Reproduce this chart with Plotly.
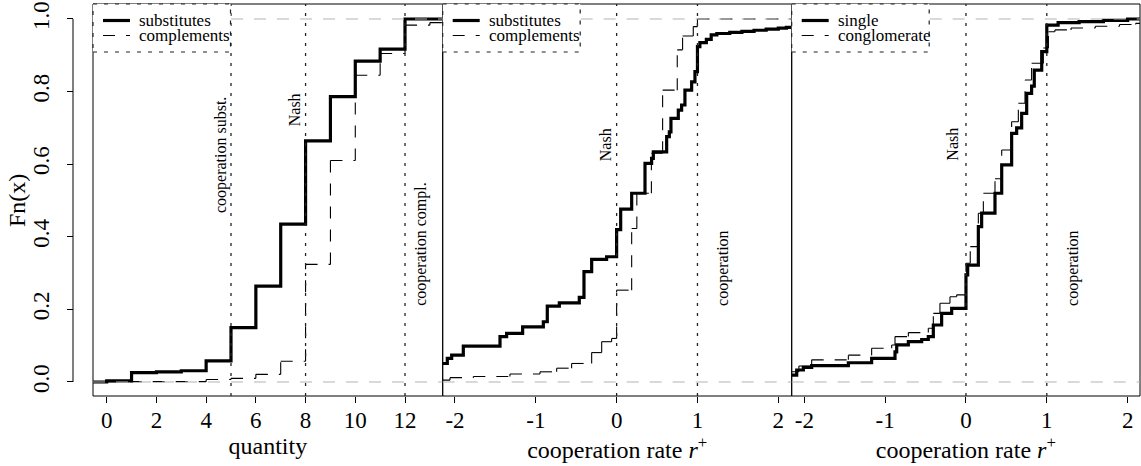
import plotly.graph_objects as go

# ---------------- data ----------------
# Panel 1: quantity
q_sub_knots = [0, 1, 2, 3, 4, 5, 6, 7, 8, 9, 10, 11, 12]
q_sub_F = [0.003, 0.026, 0.028, 0.031, 0.058, 0.150, 0.264, 0.435, 0.664, 0.786, 0.884, 0.917, 1.0]
q_com_knots = [0, 4, 5, 6, 7, 8, 9, 10, 11, 12, 13]
q_com_F = [0.001, 0.007, 0.010, 0.021, 0.057, 0.324, 0.610, 0.845, 0.905, 0.983, 0.990]

# Panel 2: cooperation rate, substitutes vs complements
r_sub_knots = [-2.2, -2.095, -2.041, -1.897, -1.443, -1.361, -1.163, -0.907, -0.858, -0.709, -0.462,
               -0.404, -0.309, -0.124, 0.0, 0.05, 0.186, 0.351, 0.433, 0.454, 0.619, 0.652, 0.672,
               0.763, 0.804, 0.845, 0.928, 0.969, 1.0, 1.03, 1.11, 1.17, 1.24, 1.4, 1.55, 1.7, 1.85,
               2.0, 2.1]
r_sub_F = [0.051, 0.065, 0.074, 0.099, 0.125, 0.134, 0.152, 0.166, 0.209, 0.218, 0.233,
           0.304, 0.338, 0.345, 0.420, 0.476, 0.520, 0.602, 0.616, 0.634, 0.676, 0.689, 0.726,
           0.749, 0.763, 0.804, 0.827, 0.855, 0.924, 0.935, 0.944, 0.956, 0.960, 0.963, 0.966,
           0.969, 0.972, 0.975, 0.977]
r_com_knots = [-2.2, -2.062, -1.773, -1.32, -0.948, -0.742, -0.557, -0.309, -0.185, -0.062, 0.0,
               0.186, 0.25, 0.43, 0.569, 0.75, 0.816, 0.948, 1.0]
r_com_F = [0.005, 0.012, 0.015, 0.022, 0.028, 0.038, 0.051, 0.081, 0.111, 0.120, 0.253,
           0.423, 0.520, 0.630, 0.804, 0.915, 0.953, 0.979, 1.0]

# Panel 3: cooperation rate, single vs conglomerate
s_sin_knots = [-2.2, -2.094, -2.012, -1.909, -1.455, -1.167, -0.878, -0.857, -0.713, -0.548, -0.466,
               -0.404, -0.301, -0.177, 0.0, 0.021, 0.153, 0.194, 0.359, 0.442, 0.565, 0.627, 0.689,
               0.751, 0.812, 0.845, 0.937, 1.0, 1.14, 1.4, 1.7, 2.0]
s_sin_F = [0.019, 0.033, 0.040, 0.045, 0.053, 0.065, 0.083, 0.102, 0.111, 0.117, 0.125,
           0.157, 0.189, 0.203, 0.295, 0.322, 0.428, 0.465, 0.520, 0.598, 0.685, 0.700, 0.740,
           0.795, 0.815, 0.859, 0.910, 0.983, 0.990, 0.993, 0.996, 1.0]
s_con_knots = [-2.2, -2.067, -1.909, -1.455, -1.167, -0.919, -0.878, -0.713, -0.466, -0.404, -0.322,
               -0.198, -0.115, 0.0, 0.053, 0.153, 0.215, 0.359, 0.442, 0.565, 0.648, 0.730, 0.812,
               0.957, 1.02, 1.1, 1.3, 1.6, 1.9, 2.1]
s_con_F = [0.028, 0.044, 0.061, 0.074, 0.093, 0.102, 0.125, 0.136, 0.148, 0.189, 0.217,
           0.235, 0.240, 0.327, 0.373, 0.465, 0.520, 0.560, 0.639, 0.717, 0.768, 0.832, 0.878,
           0.920, 0.965, 0.970, 0.975, 0.980, 0.985, 0.988]

# axes
x_ranges = [[-0.551, 13.516], [-2.152, 2.166], [-2.156, 2.153]]
x_tickvals = [[0, 2, 4, 6, 8, 10, 12], [-2, -1, 0, 1, 2], [-2, -1, 0, 1, 2]]
x_ticktext = [["0", "2", "4", "6", "8", "10", "12"], ["-2", "-1", "0", "1", "2"], ["-2", "-1", "0", "1", "2"]]
x_titles = ["quantity", "cooperation rate <i>r</i><sup>+</sup>", "cooperation rate <i>r</i><sup>+</sup>"]
y_title = "Fn(x)"
y_tickvals = [0.0, 0.2, 0.4, 0.6, 0.8, 1.0]
y_ticktext = ["0.0", "0.2", "0.4", "0.6", "0.8", "1.0"]
y_range = [-0.0386, 1.0413]

# reference lines and their labels
ref_lines = [[5, 8, 12], [0, 1], [0, 1]]
ref_labels = [
    [("cooperation subst.", 4.6, 0.46), ("Nash", 7.57, 0.70), ("cooperation compl.", 12.64, 0.204)],
    [("Nash", -0.136, 0.603), ("cooperation", 1.316, 0.204)],
    [("Nash", -0.16, 0.603), ("cooperation", 1.324, 0.204)],
]
legend_labels = [["substitutes", "complements"], ["substitutes", "complements"], ["single", "conglomerate"]]

# ---------------- layout helpers ----------------
W, H = 1141, 466
ML, MR, MT, MB = 73, 1, 4, 70
PW = W - ML - MR
PH = H - MT - MB
panel_px = [(93, 442.7), (442.7, 791.7), (791.7, 1140)]


def px2paper(px):
    return (px - ML) / PW


def py2paper(py):
    return (MT + PH - py) / PH


FONT = "Liberation Serif"
DASH = "12px,11px"
DOT = "3px,7px"


def seg_path(knots, F, lo, hi, y0=0.0):
    xs, ys = [], []
    px, py = lo, y0
    for k, f in zip(knots, F):
        xs += [px, k, None, k, k, None]
        ys += [py, py, None, py, f, None]
        px, py = k, f
    xs += [px, hi]
    ys += [py, py]
    return xs, ys


fig = go.Figure()
series = [
    (q_sub_knots, q_sub_F, q_com_knots, q_com_F),
    (r_sub_knots, r_sub_F, r_com_knots, r_com_F),
    (s_sin_knots, s_sin_F, s_con_knots, s_con_F),
]
axnames = ["x", "x2", "x3"]
for i, (k1, f1, k2, f2) in enumerate(series):
    lo, hi = x_ranges[i]
    fig.add_trace(go.Scatter(
        x=[lo] + k1 + [hi], y=[0.0] + f1 + [f1[-1]], mode="lines", line_shape="hv",
        line=dict(color="black", width=3.2), xaxis=axnames[i], yaxis="y",
        name=legend_labels[i][0], hoverinfo="skip"))
    xs, ys = seg_path(k2, f2, lo, hi)
    fig.add_trace(go.Scatter(
        x=xs, y=ys, mode="lines", connectgaps=False,
        line=dict(color="black", width=1.1, dash=DASH), xaxis=axnames[i], yaxis="y",
        name=legend_labels[i][1], hoverinfo="skip"))

shapes = []
annotations = []
for i in range(3):
    ax = axnames[i]
    # panel box
    shapes.append(dict(type="rect", xref=f"{ax} domain", yref="paper", x0=0, x1=1, y0=0, y1=1,
                       line=dict(color="black", width=1), layer="above"))
    # 0 / 1 grey lines
    for yv in (0, 1):
        shapes.append(dict(type="line", xref=f"{ax} domain", yref="y", x0=0, x1=1, y0=yv, y1=yv,
                           line=dict(color="#b3b3b3", width=1, dash=DASH), layer="above"))
    # reference lines
    for xv in ref_lines[i]:
        shapes.append(dict(type="line", xref=ax, yref="paper", x0=xv, x1=xv, y0=0, y1=1,
                           line=dict(color="#222222", width=1.3, dash=DOT), layer="above"))
    for txt, xv, yv in ref_labels[i]:
        annotations.append(dict(text=txt, x=xv, y=yv, xref=ax, yref="y", showarrow=False,
                                textangle=-90, xanchor="center", yanchor="bottom",
                                font=dict(family=FONT, size=16, color="black")))
    # legend box
    L, R = panel_px[i]
    shapes.append(dict(type="rect", xref="paper", yref="paper",
                       x0=px2paper(L), x1=px2paper(L + 137.5), y0=py2paper(52), y1=py2paper(4),
                       fillcolor="white", line=dict(color="#222222", width=1.2, dash="4px,7px"),
                       layer="above"))
    shapes.append(dict(type="line", xref="paper", yref="paper",
                       x0=px2paper(L + 10), x1=px2paper(L + 37), y0=py2paper(20.5), y1=py2paper(20.5),
                       line=dict(color="black", width=3.2), layer="above"))
    shapes.append(dict(type="line", xref="paper", yref="paper",
                       x0=px2paper(L + 10), x1=px2paper(L + 37), y0=py2paper(35.5), y1=py2paper(35.5),
                       line=dict(color="black", width=1.1, dash=DASH), layer="above"))
    for j, yy in enumerate((20.5, 35.5)):
        annotations.append(dict(text=legend_labels[i][j], x=px2paper(L + 45), y=py2paper(yy),
                                xref="paper", yref="paper", showarrow=False, xanchor="left",
                                yanchor="middle", borderpad=0,
                                font=dict(family=FONT, size=17, color="black")))

# y axis title
annotations.append(dict(text=y_title, x=px2paper(17), y=py2paper(201), xref="paper", yref="paper",
                        showarrow=False, textangle=-90, xanchor="center", yanchor="middle",
                        font=dict(family=FONT, size=24, color="black")))

# y axis line (from 0 to 1 only)
shapes.append(dict(type="line", xref="paper", yref="y", x0=0, x1=0, y0=0, y1=1,
                   line=dict(color="black", width=1)))

layout = dict(
    width=W, height=H, margin=dict(l=ML, r=MR, t=MT, b=MB, pad=0, autoexpand=False),
    plot_bgcolor="white", paper_bgcolor="white", showlegend=False,
    font=dict(family=FONT, color="black", size=23),
    shapes=shapes, annotations=annotations,
    yaxis=dict(domain=[0, 1], range=y_range, anchor="free", position=0, side="left",
               tickvals=y_tickvals, ticktext=y_ticktext, tickangle=-90,
               ticks="outside", ticklen=6, tickwidth=1, tickcolor="black",
               showline=False, showgrid=False, zeroline=False, automargin=False,
               ticklabelstandoff=9,
               tickfont=dict(family=FONT, size=23)),
)
for i in range(3):
    key = "xaxis" if i == 0 else f"xaxis{i + 1}"
    layout[key] = dict(
        domain=[px2paper(panel_px[i][0]), px2paper(panel_px[i][1])], range=x_ranges[i],
        anchor="y", tickvals=x_tickvals[i], ticktext=x_ticktext[i],
        ticks="outside", ticklen=6, tickwidth=1, tickcolor="black",
        showline=False, showgrid=False, zeroline=False, automargin=False,
        ticklabelstandoff=-3,
        tickfont=dict(family=FONT, size=23),
        title=dict(text=x_titles[i], font=dict(family=FONT, size=24), standoff=2))
fig.update_layout(**layout)
fig.write_html("out.html", config={"displayModeBar": False},
               post_script="document.body.style.margin='0';document.body.style.overflow='hidden';")
